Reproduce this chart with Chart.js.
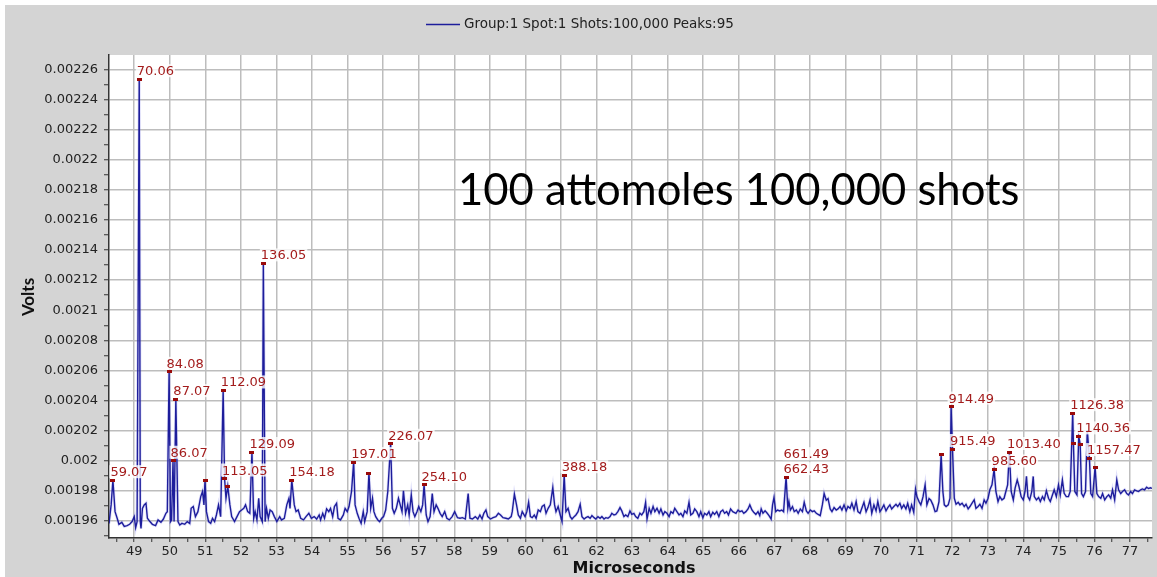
<!DOCTYPE html>
<html>
<head>
<meta charset="utf-8">
<script src="https://cdn.jsdelivr.net/npm/chart.js@4.4.1/dist/chart.umd.min.js"></script>
<style>
  html, body { margin: 0; padding: 0; background: #fff; }
</style>
</head>
<body>
<canvas id="grafico" width="1157" height="577"></canvas>
<script>
const legendText = 'Group:1 Spot:1 Shots:100,000 Peaks:95';
const noteText = '100 attomoles 100,000 shots';
const xTitle = 'Microseconds';
const yTitle = 'Volts';

// espectro: [microsegundos, voltios]
const trace = [
  [48.29,0.0019584],[48.35,0.0019707],[48.40,0.0019871],[48.46,0.0019662],[48.52,0.0019618],[48.57,0.0019578],[48.65,0.0019591],[48.72,0.0019564],[48.80,0.0019569],[48.87,0.0019578],
  [48.94,0.0019596],[49.00,0.0019629],[49.04,0.0019556],[49.08,0.0019596],[49.14,0.0022534],[49.17,0.0019596],[49.19,0.0019551],[49.23,0.0019684],[49.28,0.0019707],[49.33,0.0019718],
  [49.37,0.0019618],[49.44,0.0019596],[49.51,0.0019578],[49.60,0.0019569],[49.67,0.0019607],[49.75,0.0019591],[49.82,0.0019613],[49.89,0.0019651],[49.93,0.0019662],[49.98,0.0020591],
  [50.02,0.0019596],[50.05,0.0019607],[50.09,0.0020000],[50.12,0.0019596],[50.17,0.0020409],[50.23,0.0019596],[50.28,0.0019573],[50.34,0.0019584],[50.42,0.0019578],[50.49,0.0019596],
  [50.56,0.0019584],[50.60,0.0019684],[50.66,0.0019696],[50.72,0.0019629],[50.79,0.0019662],[50.87,0.0019762],[50.92,0.0019796],[50.96,0.0019707],[50.99,0.0019871],[51.03,0.0019662],
  [51.09,0.0019596],[51.15,0.0019584],[51.20,0.0019618],[51.26,0.0019596],[51.31,0.0019640],[51.37,0.0019707],[51.43,0.0019629],[51.50,0.0020467],[51.54,0.0019882],[51.58,0.0019751],
  [51.63,0.0019831],[51.69,0.0019707],[51.74,0.0019629],[51.82,0.0019596],[51.89,0.0019629],[51.96,0.0019662],[52.02,0.0019673],[52.08,0.0019684],[52.13,0.0019707],[52.19,0.0019662],
  [52.25,0.0019651],[52.31,0.0020058],[52.36,0.0019618],[52.40,0.0019662],[52.45,0.0019607],[52.50,0.0019751],[52.54,0.0019629],[52.60,0.0019596],[52.63,0.0021311],[52.68,0.0019596],
  [52.72,0.0019684],[52.77,0.0019618],[52.82,0.0019673],[52.88,0.0019662],[52.94,0.0019629],[53.01,0.0019596],[53.09,0.0019629],[53.14,0.0019607],[53.22,0.0019618],[53.29,0.0019707],
  [53.35,0.0019751],[53.38,0.0019684],[53.43,0.0019871],[53.50,0.0019707],[53.55,0.0019662],[53.61,0.0019673],[53.68,0.0019618],[53.76,0.0019607],[53.83,0.0019629],[53.91,0.0019651],
  [53.98,0.0019618],[54.06,0.0019629],
  [54.13,0.0019613],[54.20,0.0019640],[54.24,0.0019607],[54.30,0.0019651],[54.35,0.0019618],[54.41,0.0019680],[54.47,0.0019662],[54.52,0.0019684],[54.58,0.0019629],[54.63,0.0019696],
  [54.69,0.0019718],[54.73,0.0019618],[54.80,0.0019607],[54.88,0.0019640],[54.93,0.0019684],[54.99,0.0019662],[55.04,0.0019696],[55.11,0.0019796],[55.17,0.0019991],[55.21,0.0019707],
  [55.27,0.0019651],[55.32,0.0019618],[55.38,0.0019584],[55.44,0.0019662],[55.48,0.0019596],[55.55,0.0019662],[55.60,0.0019918],[55.65,0.0019684],[55.70,0.0019751],[55.74,0.0019662],
  [55.79,0.0019629],[55.85,0.0019607],[55.90,0.0019596],[55.96,0.0019618],[56.01,0.0019629],[56.07,0.0019673],[56.13,0.0019796],[56.21,0.0020113],[56.26,0.0019684],[56.31,0.0019651],
  [56.37,0.0019684],[56.43,0.0019751],[56.48,0.0019707],[56.53,0.0019662],[56.57,0.0019800],[56.63,0.0019651],[56.69,0.0019707],[56.73,0.0019640],[56.79,0.0019773],[56.84,0.0019662],
  [56.89,0.0019629],[56.95,0.0019662],[57.00,0.0019696],[57.06,0.0019662],[57.11,0.0019707],[57.15,0.0019840],[57.21,0.0019640],[57.26,0.0019596],[57.32,0.0019629],[57.38,0.0019782],
  [57.43,0.0019662],[57.49,0.0019707],[57.54,0.0019684],[57.60,0.0019651],[57.66,0.0019629],[57.73,0.0019662],[57.79,0.0019618],[57.86,0.0019607],[57.94,0.0019629],[58.01,0.0019662],
  [58.09,0.0019622],[58.16,0.0019618],[58.23,0.0019622],[58.31,0.0019613],[58.39,0.0019782],[58.44,0.0019618],[58.51,0.0019613],[58.59,0.0019629],[58.66,0.0019613],[58.72,0.0019640],
  [58.78,0.0019613],[58.83,0.0019651],[58.89,0.0019673],[58.94,0.0019629],[59.02,0.0019613],[59.09,0.0019622],[59.17,0.0019629],[59.24,0.0019651],[59.30,0.0019640],[59.37,0.0019622],
  [59.45,0.0019618],[59.52,0.0019613],[59.60,0.0019629],[59.63,0.0019662],[59.69,0.0019778],[59.75,0.0019707],[59.80,0.0019640],[59.86,0.0019618],[59.91,0.0019662],
  [59.99,0.0019629],[60.04,0.0019662],[60.09,0.0019724],[60.14,0.0019629],[60.19,0.0019622],[60.25,0.0019640],[60.30,0.0019618],[60.36,0.0019673],[60.42,0.0019662],[60.47,0.0019696],
  [60.53,0.0019707],[60.58,0.0019651],[60.64,0.0019684],[60.70,0.0019707],[60.77,0.0019822],[60.82,0.0019707],[60.86,0.0019662],[60.92,0.0019696],[60.98,0.0019640],[61.03,0.0019596],
  [61.09,0.0019904],[61.14,0.0019662],[61.20,0.0019684],[61.26,0.0019629],[61.31,0.0019613],[61.37,0.0019629],[61.42,0.0019640],[61.48,0.0019662],[61.54,0.0019711],[61.59,0.0019629],
  [61.65,0.0019613],[61.70,0.0019622],[61.76,0.0019629],[61.82,0.0019618],[61.87,0.0019636],[61.93,0.0019622],[61.98,0.0019613],[62.04,0.0019629],[62.10,0.0019618],[62.15,0.0019629],
  [62.21,0.0019613],[62.26,0.0019622],[62.32,0.0019618],[62.38,0.0019629],[62.43,0.0019651],[62.49,0.0019640],[62.54,0.0019644],[62.60,0.0019662],[62.66,0.0019689],[62.71,0.0019667],
  [62.77,0.0019629],[62.82,0.0019640],[62.88,0.0019629],[62.94,0.0019667],[62.99,0.0019644],[63.05,0.0019651],[63.10,0.0019629],[63.16,0.0019618],[63.22,0.0019651],[63.27,0.0019640],
  [63.33,0.0019662],[63.38,0.0019724],[63.42,0.0019613],[63.48,0.0019684],[63.53,0.0019651],[63.59,0.0019696],[63.64,0.0019662],[63.70,0.0019684],[63.76,0.0019651],[63.81,0.0019680],
  [63.87,0.0019640],[63.92,0.0019662],[63.98,0.0019651],[64.04,0.0019629],[64.09,0.0019662],[64.15,0.0019651],[64.20,0.0019684],[64.26,0.0019662],[64.32,0.0019640],[64.37,0.0019651],
  [64.43,0.0019629],[64.48,0.0019667],[64.54,0.0019651],[64.60,0.0019724],[64.65,0.0019640],[64.71,0.0019651],[64.76,0.0019680],[64.82,0.0019662],[64.88,0.0019629],[64.93,0.0019662],
  [64.99,0.0019622],[65.04,0.0019651],[65.10,0.0019640],[65.16,0.0019662],[65.21,0.0019629],[65.27,0.0019658],[65.32,0.0019644],[65.38,0.0019662],[65.44,0.0019629],[65.49,0.0019662],
  [65.55,0.0019673],[65.60,0.0019651],[65.66,0.0019662],[65.71,0.0019640],[65.77,0.0019680],[65.83,0.0019662],
  [65.92,0.0019651],[65.98,0.0019673],[66.03,0.0019662],[66.09,0.0019667],[66.14,0.0019651],[66.20,0.0019662],[66.26,0.0019680],[66.31,0.0019707],[66.37,0.0019673],[66.42,0.0019658],
  [66.48,0.0019644],[66.54,0.0019662],[66.59,0.0019636],[66.63,0.0019680],[66.68,0.0019651],[66.74,0.0019667],[66.80,0.0019651],[66.85,0.0019636],[66.91,0.0019613],[66.95,0.0019707],
  [66.99,0.0019756],[67.04,0.0019662],[67.09,0.0019673],[67.15,0.0019667],[67.21,0.0019673],[67.26,0.0019662],[67.33,0.0019891],[67.38,0.0019684],[67.41,0.0019729],[67.45,0.0019673],
  [67.51,0.0019696],[67.56,0.0019662],[67.62,0.0019673],[67.67,0.0019651],[67.73,0.0019680],[67.79,0.0019662],[67.84,0.0019724],[67.90,0.0019667],[67.95,0.0019651],[68.01,0.0019673],
  [68.07,0.0019662],[68.12,0.0019667],[68.18,0.0019651],[68.23,0.0019644],[68.29,0.0019636],[68.35,0.0019707],[68.40,0.0019782],[68.46,0.0019738],[68.51,0.0019749],[68.57,0.0019680],
  [68.62,0.0019662],[68.68,0.0019689],[68.74,0.0019673],[68.79,0.0019680],[68.85,0.0019696],[68.90,0.0019673],[68.96,0.0019707],[69.02,0.0019667],[69.07,0.0019696],[69.13,0.0019684],
  [69.18,0.0019718],[69.24,0.0019673],[69.30,0.0019729],[69.35,0.0019662],[69.41,0.0019651],[69.46,0.0019684],[69.52,0.0019724],[69.58,0.0019662],[69.63,0.0019689],[69.69,0.0019740],
  [69.74,0.0019651],[69.80,0.0019707],[69.86,0.0019667],[69.91,0.0019729],[69.97,0.0019662],[70.02,0.0019680],[70.08,0.0019707],[70.14,0.0019667],[70.19,0.0019689],[70.25,0.0019707],
  [70.30,0.0019680],[70.36,0.0019696],[70.42,0.0019711],[70.47,0.0019696],[70.53,0.0019718],[70.58,0.0019684],[70.64,0.0019707],[70.70,0.0019680],[70.75,0.0019718],[70.81,0.0019662],
  [70.86,0.0019707],[70.92,0.0019658],[70.97,0.0019811],[71.01,0.0019760],[71.07,0.0019729],[71.12,0.0019707],[71.18,0.0019760],[71.24,0.0019840],[71.29,0.0019707],[71.35,0.0019749],
  [71.40,0.0019738],[71.46,0.0019707],[71.52,0.0019662],[71.57,0.0019667],[71.63,0.0019729],[71.69,0.0020040],[71.74,0.0019793],
  [71.78,0.0019707],[71.83,0.0019696],[71.89,0.0019707],[71.94,0.0019751],[71.97,0.0020360],[72.01,0.0020078],[72.06,0.0019751],[72.11,0.0019711],[72.17,0.0019724],[72.22,0.0019707],
  [72.28,0.0019718],[72.34,0.0019696],[72.39,0.0019711],[72.45,0.0019680],[72.50,0.0019696],[72.56,0.0019718],[72.62,0.0019740],[72.67,0.0019684],[72.73,0.0019696],[72.78,0.0019711],
  [72.84,0.0019684],[72.90,0.0019740],[72.95,0.0019718],[73.01,0.0019751],[73.06,0.0019807],[73.12,0.0019840],[73.18,0.0019942],[73.23,0.0019796],[73.29,0.0019729],[73.34,0.0019762],
  [73.40,0.0019740],[73.46,0.0019751],[73.51,0.0019796],[73.56,0.0019840],[73.61,0.0020058],[73.66,0.0019796],[73.72,0.0019740],[73.77,0.0019818],[73.83,0.0019873],[73.88,0.0019829],
  [73.94,0.0019762],[74.00,0.0019740],[74.05,0.0019796],[74.09,0.0019896],[74.13,0.0019762],[74.18,0.0019740],[74.24,0.0019796],[74.28,0.0019896],[74.31,0.0019762],[74.37,0.0019740],
  [74.43,0.0019756],[74.48,0.0019729],[74.54,0.0019762],[74.59,0.0019740],[74.65,0.0019800],[74.71,0.0019751],[74.76,0.0019729],[74.82,0.0019773],[74.87,0.0019807],[74.93,0.0019762],
  [74.99,0.0019840],[75.04,0.0019773],[75.10,0.0019873],[75.15,0.0019784],[75.21,0.0019762],[75.27,0.0019762],[75.32,0.0019796],[75.39,0.0020316],[75.41,0.0020116],[75.45,0.0019796],
  [75.51,0.0019773],[75.56,0.0020162],[75.60,0.0020111],[75.64,0.0019782],[75.69,0.0019762],[75.75,0.0019796],[75.80,0.0020204],[75.86,0.0020018],[75.90,0.0019782],[75.95,0.0019762],
  [76.02,0.0019956],[76.07,0.0019782],[76.12,0.0019762],[76.18,0.0019751],[76.23,0.0019782],[76.29,0.0019740],[76.35,0.0019762],[76.40,0.0019773],[76.46,0.0019751],[76.51,0.0019807],
  [76.57,0.0019740],[76.63,0.0019873],[76.68,0.0019807],[76.74,0.0019782],[76.79,0.0019796],[76.85,0.0019807],[76.91,0.0019782],[76.96,0.0019773],[77.02,0.0019796],[77.07,0.0019782],
  [77.13,0.0019807],[77.19,0.0019800],[77.24,0.0019796],[77.30,0.0019807],[77.35,0.0019813],[77.41,0.0019807],[77.47,0.0019824],[77.52,0.0019816],[77.58,0.0019820],[77.62,0.0019816]
];

// picos marcados
const peakTimes = [48.40, 49.14, 49.98, 50.09, 50.17, 50.99, 51.50, 51.54, 51.63, 52.31, 52.63, 53.43, 55.17, 55.60, 56.21,
  57.15, 61.09, 67.33, 71.69, 71.97, 72.01, 73.18, 73.61, 75.39, 75.41, 75.56, 75.60, 75.86, 76.02];
const peakVolts = [0.0019871, 0.0022534, 0.0020591, 0.0020000, 0.0020409, 0.0019871, 0.0020467, 0.0019882, 0.0019831, 0.0020058,
  0.0021311, 0.0019871, 0.0019991, 0.0019918, 0.0020113, 0.0019840, 0.0019904, 0.0019891, 0.0020040, 0.0020360,
  0.0020078, 0.0019942, 0.0020058, 0.0020316, 0.0020116, 0.0020162, 0.0020111, 0.0020018, 0.0019956];
const peakLabels = ['59.07', '70.06', '84.08', '86.07', '87.07', '', '112.09', '113.05', '', '129.09', '136.05', '154.18', '197.01', '',
  '226.07', '254.10', '388.18', '661.49\n662.43', '', '914.49', '915.49', '985.60', '1013.40', '1126.38', '', '1140.36', '', '1157.47', ''];

const xMin = 48.29, xMax = 77.62;
const yMin = 0.0019487, yMax = 0.0022695;

const esMayorX = v => Math.abs(v - Math.round(v)) < 1e-6;
const esMayorY = v => Math.round(v * 1e5) % 2 === 0;

// marca rectangular de pico
const marca = document.createElement('canvas');
marca.width = 5; marca.height = 3;
const mctx = marca.getContext('2d');
mctx.fillStyle = '#9a0b0b';
mctx.fillRect(0, 0, 5, 3);

const puntos = trace.map(([x, y]) => ({ x, y }));
const picos = peakTimes.map((x, i) => ({ x, y: peakVolts[i] }));

const fondo = {
  id: 'fondo',
  beforeDraw(chart) {
    const { ctx, chartArea: a, width, height } = chart;
    ctx.save();
    ctx.fillStyle = '#ffffff';
    ctx.fillRect(0, 0, width, height);
    ctx.fillStyle = '#d4d4d4';
    ctx.fillRect(5, 5, width - 5, height - 5);
    ctx.fillStyle = '#ffffff';
    ctx.fillRect(a.left, a.top, a.right - a.left, a.bottom - a.top);
    ctx.restore();
  }
};

const rotulos = {
  id: 'rotulos',
  afterDatasetsDraw(chart) {
    const { ctx } = chart;
    const meta = chart.getDatasetMeta(0);
    ctx.save();
    ctx.font = '13px "DejaVu Sans"';
    ctx.textBaseline = 'alphabetic';
    meta.data.forEach((pt, i) => {
      if (!peakLabels[i]) return;
      const lineas = peakLabels[i].split('\n').reverse();
      lineas.forEach((txt, k) => {
        const x = pt.x - 2.5;
        const y = pt.y - 4 - k * 15;
        const w = ctx.measureText(txt).width;
        ctx.fillStyle = 'rgba(255,255,255,0.8)';
        ctx.fillRect(x - 1, y - 11, w + 2, 13);
        ctx.fillStyle = '#a31c1c';
        ctx.fillText(txt, x, y);
      });
    });
    ctx.restore();
  }
};

const textos = {
  id: 'textos',
  afterDraw(chart) {
    const { ctx } = chart;
    const serie = chart.data.datasets[1];
    ctx.save();
    // leyenda
    ctx.strokeStyle = serie.borderColor;
    ctx.lineWidth = 1.5;
    ctx.beginPath();
    ctx.moveTo(426, 24.5);
    ctx.lineTo(460, 24.5);
    ctx.stroke();
    ctx.fillStyle = '#222';
    ctx.font = '13.5px "DejaVu Sans"';
    ctx.textBaseline = 'middle';
    ctx.textAlign = 'left';
    ctx.fillText(serie.label, 464, 24);

    // nota grande dentro del area
    ctx.font = '100px Lato';
    const ancho = ctx.measureText(noteText).width;
    ctx.font = (100 * 562 / ancho).toFixed(1) + 'px Lato';
    ctx.fillStyle = '#000';
    ctx.textBaseline = 'alphabetic';
    ctx.fillText(noteText, 458, 205);

    // titulos de ejes
    ctx.fillStyle = '#111';
    ctx.textAlign = 'center';
    ctx.textBaseline = 'middle';
    ctx.font = 'bold 16px "DejaVu Sans"';
    ctx.fillText(xTitle, 634, 569);
    ctx.translate(29, 297);
    ctx.rotate(-Math.PI / 2);
    ctx.font = 'bold 17px Lato';
    ctx.fillText(yTitle, 0, 0);
    ctx.restore();
  }
};

new Chart(document.getElementById('grafico'), {
  type: 'line',
  data: {
    datasets: [
      {
        label: 'picos',
        data: picos,
        showLine: false,
        pointStyle: marca,
        pointRadius: 3,
        order: 0
      },
      {
        label: legendText,
        data: puntos,
        borderColor: '#1d1d9b',
        borderWidth: 1.4,
        pointRadius: 0,
        tension: 0,
        order: 1
      },
      {
        label: 'halo',
        data: puntos,
        borderColor: 'rgba(130,130,235,0.25)',
        borderWidth: 3,
        pointRadius: 0,
        tension: 0,
        order: 2
      }
    ]
  },
  options: {
    responsive: false,
    animation: false,
    layout: { padding: { top: 55, left: 0, right: 0, bottom: 0 } },
    plugins: {
      legend: { display: false },
      tooltip: { enabled: false }
    },
    scales: {
      x: {
        type: 'linear',
        min: xMin,
        max: xMax,
        afterFit: s => { s.height = 39; },
        border: { color: '#333', width: 1.5 },
        grid: {
          color: c => (c.tick && esMayorX(c.tick.value)) ? '#bdbdbd' : 'rgba(0,0,0,0)',
          lineWidth: 1.5,
          tickColor: '#333',
          tickWidth: 1,
          tickLength: 4
        },
        ticks: {
          stepSize: 0.5,
          includeBounds: false,
          autoSkip: false,
          maxRotation: 0,
          padding: 2,
          color: '#222',
          font: { family: 'DejaVu Sans', size: 13 },
          callback: v => esMayorX(v) ? String(Math.round(v)) : ''
        }
      },
      y: {
        type: 'linear',
        min: yMin,
        max: yMax,
        afterFit: s => { s.width = 109; },
        border: { color: '#333', width: 1.5 },
        grid: {
          color: c => (c.tick && esMayorY(c.tick.value)) ? '#bdbdbd' : 'rgba(0,0,0,0)',
          lineWidth: 1.5,
          tickColor: '#333',
          tickWidth: 1,
          tickLength: 5
        },
        ticks: {
          stepSize: 0.00001,
          includeBounds: false,
          autoSkip: false,
          padding: 6,
          color: '#222',
          font: { family: 'DejaVu Sans', size: 13 },
          callback: v => esMayorY(v) ? String(+(Math.round(v * 1e5) / 1e5).toFixed(5)) : ''
        }
      }
    }
  },
  plugins: [fondo, rotulos, textos]
});
</script>
</body>
</html>
